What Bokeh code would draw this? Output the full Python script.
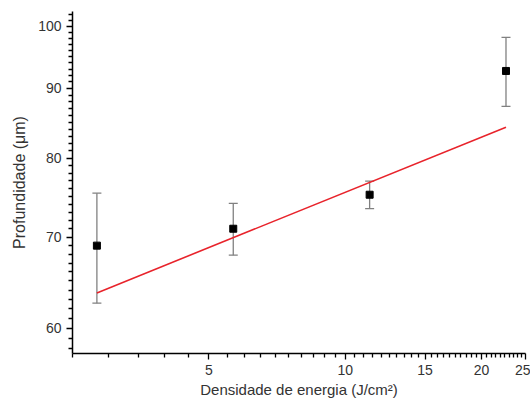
from bokeh.plotting import figure
from bokeh.models import FixedTicker, ColumnDataSource, Whisker, TeeHead, Range1d
from bokeh.embed import file_html
from bokeh.resources import INLINE

# data
energy = [2.83, 5.66, 11.32, 22.64]          # J/cm^2
depth = [69.0, 71.0, 75.2, 92.7]             # um
depth_err = [6.4, 3.1, 1.75, 5.4]
fit_x = [2.83, 22.64]
fit_y = [63.7, 84.3]

x_major = [5, 10, 15, 20, 25]
x_minor = [v / 2 for v in range(5, 51) if (v / 2) not in x_major]
y_major = [60, 70, 80, 90, 100]
y_minor = [float(v) for v in range(57, 103) if v not in y_major]

X_START, X_END = 2.5, 25
Y_START, Y_END = 57.5, 102.5

src = ColumnDataSource(dict(
    x=energy, y=depth,
    lo=[d - e for d, e in zip(depth, depth_err)],
    hi=[d + e for d, e in zip(depth, depth_err)],
))

p = figure(frame_width=453, frame_height=342, x_axis_type="log", y_axis_type="log",
           x_range=Range1d(X_START, X_END), y_range=Range1d(Y_START, Y_END),
           output_backend="svg", toolbar_location=None,
           min_border_left=72, min_border_top=11, min_border_bottom=46,
           min_border_right=5)
p.outline_line_color = None
p.xgrid.visible = False
p.ygrid.visible = False
p.background_fill_color = "white"
p.border_fill_color = "white"

p.xaxis.ticker = FixedTicker(ticks=x_major, minor_ticks=x_minor)
p.yaxis.ticker = FixedTicker(ticks=y_major, minor_ticks=y_minor)
p.xaxis.major_label_overrides = {v: str(v) for v in x_major}
p.yaxis.major_label_overrides = {v: str(v) for v in y_major}

for ax in (p.xaxis, p.yaxis):
    ax.axis_line_color = "black"
    ax.axis_line_width = 1.5
    ax.major_tick_line_color = "black"
    ax.minor_tick_line_color = "black"
    ax.major_tick_line_width = 1.3
    ax.minor_tick_line_width = 1.3
    ax.major_tick_out = 6
    ax.major_tick_in = 0
    ax.minor_tick_out = 4
    ax.minor_tick_in = 0
    ax.major_label_text_font = "Liberation Sans"
    ax.major_label_text_font_size = "14px"
    ax.major_label_text_color = "#333333"
    ax.axis_label_text_font = "Liberation Sans"
    ax.axis_label_text_font_style = "normal"
    ax.axis_label_text_color = "#333333"
    ax.major_label_standoff = 5

p.xaxis.axis_label = "Densidade de energia (J/cm²)"
p.yaxis.axis_label = "Profundidade (μm)"
p.xaxis.axis_label_text_font_size = "15px"
p.yaxis.axis_label_text_font_size = "16px"
p.xaxis.axis_label_standoff = 3
p.yaxis.axis_label_standoff = 7

p.line(fit_x, fit_y, line_color="#e8232b", line_width=1.6)

w = Whisker(source=src, base="x", upper="hi", lower="lo",
            line_color="#808080", line_width=1.3,
            upper_head=TeeHead(size=9, line_color="#808080", line_width=1.3),
            lower_head=TeeHead(size=9, line_color="#808080", line_width=1.3))
p.add_layout(w)

p.scatter("x", "y", source=src, marker="square", size=7, color="black")

open("out.html", "w").write(file_html(p, INLINE))
